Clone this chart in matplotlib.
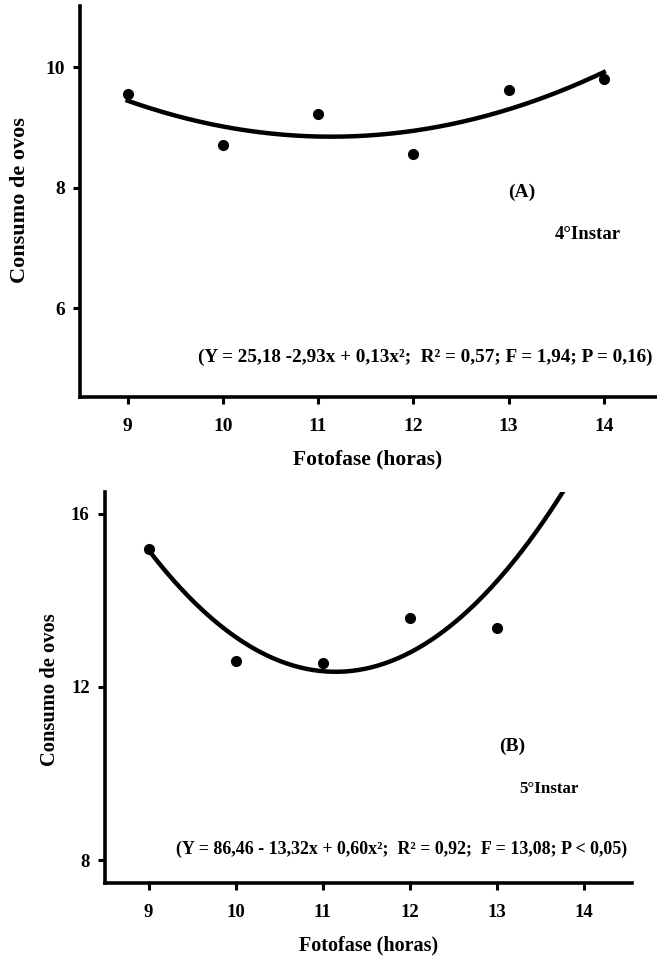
import numpy as np
from matplotlib import pyplot as plt

# panel A - 4th instar
foto_a = [9, 10, 11, 12, 13, 14]
consumo_a = [9.56, 8.71, 9.23, 8.57, 9.62, 9.81]
eq_a = '(Y = 25,18 -2,93x + 0,13x²;  R² = 0,57; F = 1,94; P = 0,16)'

# panel B - 5th instar
foto_b = [9, 10, 11, 12, 13]
consumo_b = [15.19, 12.60, 12.54, 13.59, 13.36]
# curve as drawn in the figure (a bit lower than the printed equation)
coef_b = [0.61, -13.60, 88.15]
eq_b = '(Y = 86,46 - 13,32x + 0,60x²;  R² = 0,92;  F = 13,08; P < 0,05)'

xticks = [9, 10, 11, 12, 13, 14]
yticks_a = [6, 8, 10]
yticks_b = [8, 12, 16]

plt.rcParams['font.family'] = ['Liberation Serif', 'DejaVu Serif']
plt.rcParams['font.weight'] = 'bold'

fig = plt.figure(figsize=(6.57, 9.59), dpi=100)


def style_axes(ax, yticks, ylim, fs):
    for s in ['top', 'right']:
        ax.spines[s].set_visible(False)
    for s in ['left', 'bottom']:
        ax.spines[s].set_linewidth(2.6)
    ax.set_xlim(8.5, 14.55)
    ax.set_ylim(*ylim)
    ax.set_xticks(xticks)
    ax.set_yticks(yticks)
    ax.tick_params(axis='both', direction='out', length=5, width=2.2,
                   labelsize=fs)
    ax.tick_params(axis='x', pad=10)
    ax.tick_params(axis='y', pad=6)
    for lab in ax.get_xticklabels() + ax.get_yticklabels():
        lab.set_fontweight('bold')


# ---- A ----
ax1 = fig.add_axes([0.1218, 0.586, 0.877, 0.4077])
style_axes(ax1, yticks_a, (4.53, 11.02), 14)
fit_a = np.polyfit(foto_a, consumo_a, 2)
xs = np.linspace(9, 14, 200)
ax1.plot(xs, np.polyval(fit_a, xs), color='black', lw=3.2)
ax1.plot(foto_a, consumo_a, 'o', color='black', ms=7)
ax1.text(13.14, 7.93, '(A)', ha='center', va='center', fontsize=14,
         fontweight='bold')
ax1.text(13.83, 7.23, '4°Instar', ha='center', va='center', fontsize=13.5,
         fontweight='bold')
ax1.text(14.51, 5.19, eq_a, ha='right', va='center', fontsize=13.8,
         fontweight='bold')
ax1.set_xlabel('Fotofase (horas)', fontsize=15.5, fontweight='bold',
               va='center')
ax1.xaxis.set_label_coords(0.5, -0.161)
ax1.set_ylabel('Consumo de ovos', fontsize=16, fontweight='bold',
               va='center')
ax1.yaxis.set_label_coords(-0.104, 0.504)

# ---- B ----
ax2 = fig.add_axes([0.1598, 0.0793, 0.802, 0.4077])
style_axes(ax2, yticks_b, (7.47, 16.5), 13.5)
xs_b = np.linspace(9, 14, 200)
ax2.plot(xs_b, np.polyval(coef_b, xs_b), color='black', lw=3.2)
ax2.plot(foto_b, consumo_b, 'o', color='black', ms=7)
ax2.text(13.18, 10.63, '(B)', ha='center', va='center', fontsize=14,
         fontweight='bold')
ax2.text(13.6, 9.65, '5°Instar', ha='center', va='center', fontsize=12.2,
         fontweight='bold')
ax2.text(14.50, 8.24, eq_b, ha='right', va='center', fontsize=12.9,
         fontweight='bold')
ax2.set_xlabel('Fotofase (horas)', fontsize=14.5, fontweight='bold',
               va='center')
ax2.xaxis.set_label_coords(0.5, -0.159)
ax2.set_ylabel('Consumo de ovos', fontsize=14.8, fontweight='bold',
               va='center')
ax2.yaxis.set_label_coords(-0.104, 0.494)

fig.savefig('out.png', dpi=100)
